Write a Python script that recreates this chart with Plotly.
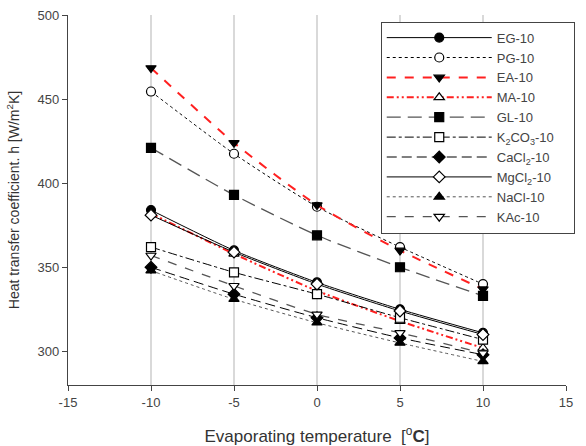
import plotly.graph_objects as go

temps = [-10, -5, 0, 5, 10]
EG = [384, 360, 341, 325, 311]
PG = [454.5, 417.5, 386, 362, 340]
EA = [468.5, 424, 387, 360, 337]
MA = [382, 358, 336, 318, 302]
GL = [421, 393, 369, 350, 333]
K2CO3 = [362, 347, 334, 320, 307]
CaCl2 = [350, 334, 320, 308, 298]
MgCl2 = [381, 359, 340, 324, 310]
NaCl = [348, 331, 317, 305, 294]
KAc = [357, 339, 322, 311, 299]

x_ticks = [-15, -10, -5, 0, 5, 10, 15]
x_ticktext = ["-15", "-10", "-5", "0", "5", "10", "15"]
y_ticks = [300, 350, 400, 450, 500]

series = [
    ("EG-10", EG, "black", 1, "solid", "circle", False),
    ("PG-10", PG, "black", 1, "dot", "circle", True),
    ("EA-10", EA, "#ff2020", 2, "dash", "triangle-down", False),
    ("MA-10", MA, "#ff2020", 2, "7px,3px,2px,3px,2px,3px", "triangle-up", True),
    ("GL-10", GL, "#555555", 1.3, "14px,7px", "square", False),
    ("K<sub>2</sub>CO<sub>3</sub>-10\u00a0\u00a0\u00a0\u00a0", K2CO3, "black", 1, "dashdot", "square", True),
    ("CaCl<sub>2</sub>-10", CaCl2, "black", 1, "10px,5px", "diamond", False),
    ("MgCl<sub>2</sub>-10", MgCl2, "black", 1, "solid", "diamond", True),
    ("NaCl-10", NaCl, "#555555", 1, "dot", "triangle-up", False),
    ("KAc-10", KAc, "#555555", 1.3, "dash", "triangle-down", True),
]

fig = go.Figure()
for name, ys, col, w, dash, sym, hollow in series:
    fig.add_trace(go.Scatter(
        x=temps, y=ys, name=name, mode="lines+markers",
        line=dict(color=col, width=w, dash=dash, shape="spline", smoothing=0.6),
        marker=dict(symbol=sym, size=9, color="white" if hollow else "black",
                    line=dict(color="black", width=1.2)),
    ))

fig.update_layout(
    width=586, height=446,
    margin=dict(l=68, r=11, t=15, b=61),
    plot_bgcolor="white", paper_bgcolor="white",
    font=dict(family="Liberation Sans, Arial", size=13, color="#444"),
    legend=dict(x=0.628, y=0.982, xanchor="left", yanchor="top",
                bordercolor="#444", borderwidth=1, bgcolor="white",
                font=dict(size=13, color="#444"), itemwidth=105,
                tracegroupgap=0, itemsizing="trace"),
    xaxis=dict(range=[-15, 15], tickvals=x_ticks, ticktext=x_ticktext,
               showgrid=True, gridcolor="#d9d9d9", gridwidth=1.5,
               showline=True, linecolor="#444", linewidth=1.2,
               ticks="outside", ticklen=5, tickcolor="#444", zeroline=False,
               tickfont=dict(size=13), automargin=False,
               title=dict(text="Evaporating temperature  [<sup>o</sup><b>C</b>]",
                          font=dict(size=17, color="#333"), standoff=24)),
    yaxis=dict(range=[280, 500], tickvals=y_ticks,
               showgrid=False, showline=True, linecolor="#444", linewidth=1.2,
               ticks="outside", ticklen=5, tickcolor="#444", zeroline=False,
               tickfont=dict(size=13), automargin=False,
               title=dict(text="Heat transfer coefficient. h [W/m<sup>2</sup>K]",
                          font=dict(size=14, color="#333"), standoff=14)),
)

fig.write_html("out.html")
